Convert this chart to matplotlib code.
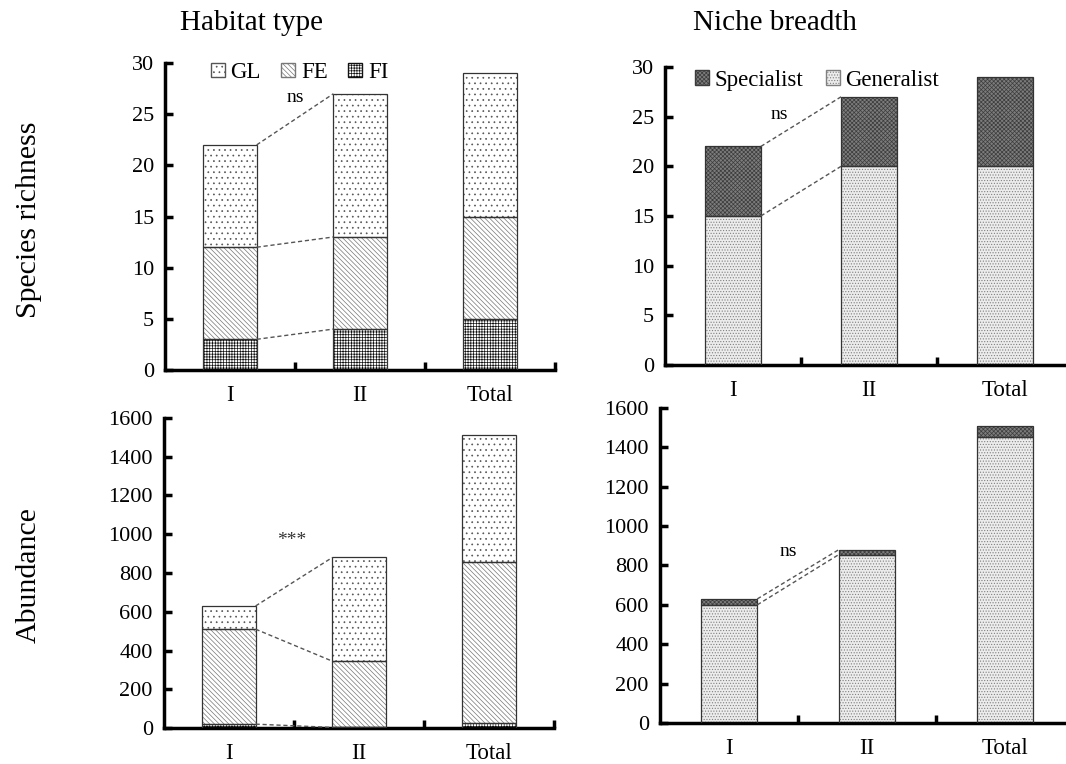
import matplotlib.pyplot as plt
from matplotlib.patches import Patch

plt.rcParams['font.family'] = ['Liberation Serif', 'DejaVu Serif']
plt.rcParams['hatch.linewidth'] = 0.5

groups = ['I', 'II', 'Total']

# habitat type (stack order: FI, FE, GL)
rich_fi = [3, 4, 5]
rich_fe = [9, 9, 10]
rich_gl = [10, 14, 14]
abun_fi = [20, 3, 25]
abun_fe = [490, 342, 830]
abun_gl = [120, 535, 655]

# niche breadth (stack order: Generalist, Specialist)
rich_gen = [15, 20, 20]
rich_spec = [7, 7, 9]
abun_gen = [600, 855, 1455]
abun_spec = [30, 25, 55]

styles = {
    'GL': dict(face='white', hatch='...', hcol='#555555'),
    'FE': dict(face='white', hatch='\\' * 7, hcol='#777777'),
    'FI': dict(face='white', hatch='++++++', hcol='#111111'),
    'Specialist': dict(face='#7c7c7c', hatch='x' * 8, hcol='#3c3c3c'),
    'Generalist': dict(face='#ececec', hatch='......', hcol='#808080'),
}

W = 0.41
fig = plt.figure(figsize=(10.66, 7.64), dpi=100)
ax_tl = fig.add_axes([0.1548, 0.5157, 0.3659, 0.4018])
ax_tr = fig.add_axes([0.6238, 0.5223, 0.3827, 0.3900])
ax_bl = fig.add_axes([0.1538, 0.0471, 0.3659, 0.4058])
ax_br = fig.add_axes([0.6191, 0.0537, 0.3884, 0.4123])


def stacked(ax, layers):
    x = range(len(groups))
    base = [0] * len(groups)
    tops = []
    for name, vals in layers:
        s = styles[name]
        ax.bar(x, vals, W, bottom=base, color=s['face'], hatch=s['hatch'],
               edgecolor=s['hcol'], linewidth=0, zorder=2)
        ax.bar(x, vals, W, bottom=base, fill=False, edgecolor='#333333',
               linewidth=0.9, zorder=3)
        base = [b + v for b, v in zip(base, vals)]
        tops.append(list(base))
    # dashed connectors between I and II
    for t in tops:
        ax.plot([W / 2, 1 - W / 2], [t[0], t[1]], ls=(0, (3, 2)),
                color='#555555', lw=1, zorder=4)


def style(ax, ymax, ystep):
    ax.set_xlim(-0.5, 2.5)
    ax.set_ylim(0, ymax)
    ax.set_yticks(range(0, ymax + 1, ystep))
    ax.set_xticks(range(len(groups)))
    ax.set_xticklabels(groups)
    ax.set_xticks([0.5, 1.5, 2.5], minor=True)
    for sp in ['top', 'right']:
        ax.spines[sp].set_visible(False)
    for sp in ['left', 'bottom']:
        ax.spines[sp].set_linewidth(2.5)
    ax.tick_params(axis='x', which='major', length=0, pad=11, labelsize=16.5)
    ax.tick_params(axis='x', which='minor', direction='in', length=6, width=2.5)
    ax.tick_params(axis='y', direction='in', length=6, width=2.5, pad=8,
                   labelsize=16)


stacked(ax_tl, [('FI', rich_fi), ('FE', rich_fe), ('GL', rich_gl)])
style(ax_tl, 30, 5)
stacked(ax_bl, [('FI', abun_fi), ('FE', abun_fe), ('GL', abun_gl)])
style(ax_bl, 1600, 200)
stacked(ax_tr, [('Generalist', rich_gen), ('Specialist', rich_spec)])
style(ax_tr, 30, 5)
stacked(ax_br, [('Generalist', abun_gen), ('Specialist', abun_spec)])
style(ax_br, 1600, 200)


def handles(names):
    return [Patch(facecolor=styles[n]['face'], hatch=styles[n]['hatch'],
                  edgecolor=styles[n]['hcol'], label=n) for n in names]


ax_tl.legend(handles=handles(['GL', 'FE', 'FI']), ncol=3, frameon=False,
             loc='upper left', bbox_to_anchor=(0.065, 1.07), fontsize=16.5,
             handlelength=0.6, handleheight=0.6, handletextpad=0.25,
             columnspacing=0.9)
ax_tr.legend(handles=handles(['Specialist', 'Generalist']), ncol=2,
             frameon=False, loc='upper left', bbox_to_anchor=(0.023, 1.06),
             fontsize=16.5, handlelength=0.6, handleheight=0.6,
             handletextpad=0.25, columnspacing=1.0)

ax_tl.text(0.5, 26.6, 'ns', ha='center', va='center', fontsize=14)
ax_tr.text(0.34, 25.2, 'ns', ha='center', va='center', fontsize=14)
ax_bl.text(0.48, 970, '***', ha='center', va='center', fontsize=14,
           color='#333333')
ax_br.text(0.43, 871, 'ns', ha='center', va='center', fontsize=14)

fig.text(0.236, 0.97, 'Habitat type', ha='center', va='center', fontsize=21)
fig.text(0.727, 0.97, 'Niche breadth', ha='center', va='center', fontsize=21)
fig.text(0.027, 0.712, 'Species richness', ha='center', va='center',
         rotation=90, fontsize=21.5)
fig.text(0.027, 0.247, 'Abundance', ha='center', va='center', rotation=90,
         fontsize=21.5)

fig.savefig('out.png', dpi=100)
